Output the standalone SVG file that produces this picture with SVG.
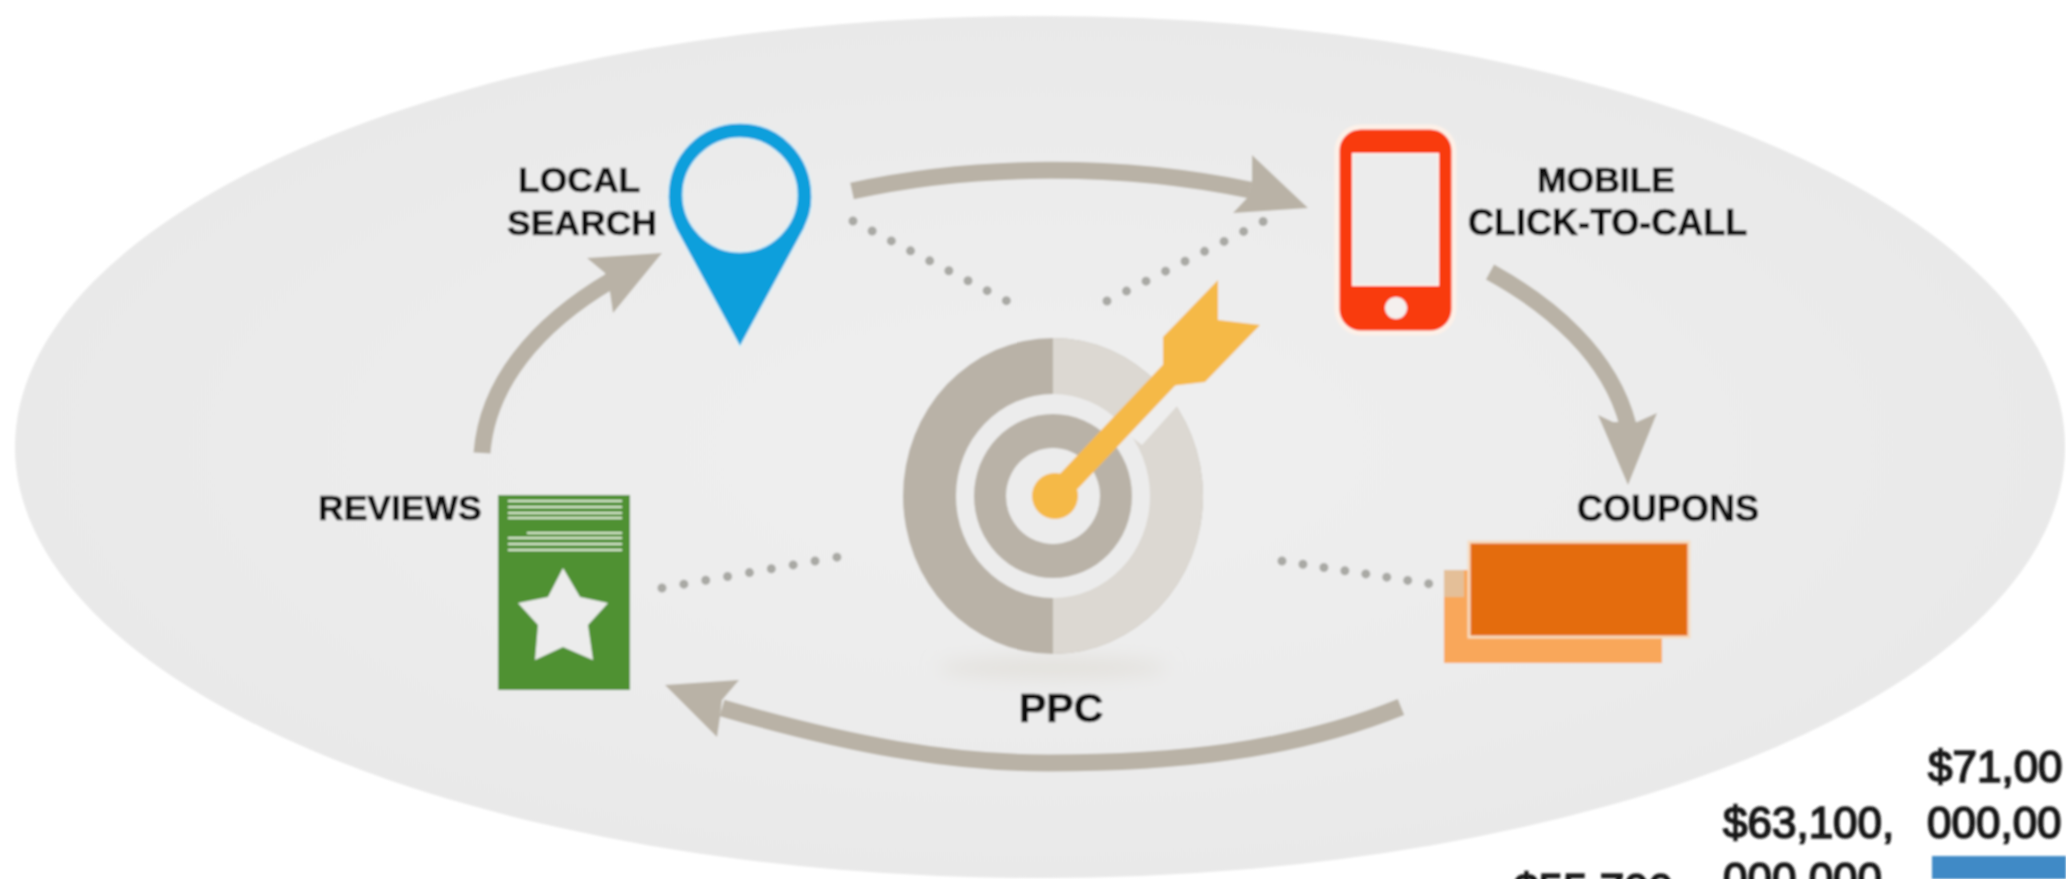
<svg xmlns="http://www.w3.org/2000/svg" width="2066" height="879" viewBox="0 0 2066 879">
<style>
.lbl{font-family:"Liberation Sans",Arial,sans-serif;font-weight:700;font-size:35.5px;fill:#111;stroke:#111;stroke-width:.7}
.val{font-family:"Liberation Sans",Arial,sans-serif;font-weight:400;font-size:44px;fill:#1a1a1a;stroke:#1a1a1a;stroke-width:1.7}
.stem{fill:none;stroke:#b9b2a6;stroke-width:17}
.head{fill:#b9b2a6}
.dots{fill:none;stroke:#a9a9a4;stroke-width:9;stroke-linecap:round}
.dark{fill:#b9b2a7}
.light{fill:#dcd8d2}
.bg{fill:#ececec}
.gold{fill:#f5b947}
.rl{stroke:#dcebd0;stroke-width:2;fill:none}
</style>
<defs>
<filter id="soft" x="0" y="0" width="2066" height="879" filterUnits="userSpaceOnUse"><feGaussianBlur stdDeviation="1"/></filter>
<filter id="shadow" x="-20%" y="-100%" width="140%" height="300%"><feGaussianBlur stdDeviation="9"/></filter>
<radialGradient id="wash" cx="50%" cy="50%" r="50%"><stop offset="0" stop-color="#efefef"/><stop offset="0.6" stop-color="#ececec"/><stop offset="1" stop-color="#e9e9e9"/></radialGradient>
<clipPath id="right"><rect x="1053" y="320" width="170" height="350"/></clipPath>
</defs>
<rect width="2066" height="879" fill="#ffffff"/>
<g filter="url(#soft)">
<ellipse id="backdrop" cx="1040" cy="447" rx="1025" ry="431" fill="url(#wash)"/>

<g id="connectors">
<path class="stem" d="M852,191 C975,164 1120,163 1250,190"/>
<polygon class="head" points="1252,155 1308,208 1233,213 1248,197 1252,180"/>
<path class="stem" d="M1490,272 C1550,305 1610,355 1628,425"/>
<polygon class="head" points="1598,415 1613,422 1637,422 1657,413 1628,485"/>
<path class="stem" d="M1401,707 C1290,752 1170,763 1048,763 C950,763 850,745 722,708"/>
<polygon class="head" points="665,685 739,680 722,700 720,717 717,737"/>
<path class="stem" d="M482,453 C487,385 535,325 612,280"/>
<polygon class="head" points="587,258 662,253 613,313 610,292 605,273"/>
<path class="dots" stroke-dasharray="0 21.6" d="M853,221 L1009,302"/>
<path class="dots" stroke-dasharray="0 21.9" d="M1107,301 L1270,218"/>
<path class="dots" stroke-dasharray="0 22.2" d="M662,588 L838,557"/>
<path class="dots" stroke-dasharray="0 21.2" d="M1282,561 L1431,584"/>
</g>

<g id="local-search">
<path d="M740,123 C700,123 668,155 668,197 C668,210 671,218 676,229 L740,347 L804,229 C809,218 812,210 812,197 C812,155 780,123 740,123 Z M740,138 C771,138 797,164 797,195 C797,226 771,252 740,252 C709,252 683,226 683,195 C683,164 709,138 740,138 Z" fill="#0f9fdc" fill-rule="evenodd" stroke="#d8f0f8" stroke-width="1.5"/>
<text class="lbl" x="518" y="192">LOCAL</text>
<text class="lbl" x="507" y="235">SEARCH</text>
</g>

<g id="mobile">
<rect x="1337" y="127" width="117" height="206" rx="24" fill="#f93a0c" stroke="#fdf1e8" stroke-width="5"/>
<rect x="1353" y="154" width="85" height="131" class="bg" stroke="#fbf3ec" stroke-width="2"/>
<circle cx="1396" cy="308" r="11" fill="#f4f0ee"/>
<text class="lbl" x="1537" y="192">MOBILE</text>
<text class="lbl" x="1468" y="235" style="font-size:36px">CLICK-TO-CALL</text>
</g>

<g id="coupons">
<rect x="1444" y="570" width="218" height="93" fill="#f9a75a"/>
<rect x="1444" y="570" width="20" height="27" fill="#e4bf98"/>
<rect x="1469" y="542" width="220" height="95" fill="#e46c0a" stroke="#f7dcc0" stroke-width="3"/>
<text class="lbl" x="1577" y="521" style="font-size:36px">COUPONS</text>
</g>

<g id="reviews">
<rect x="498" y="495" width="132" height="195" fill="#4f9133"/>
<path class="rl" d="M508,501H622M508,507H622M508,513H622M508,518H622M527,533H622M508,538H622M508,544H622M508,550H622"/>
<polygon class="bg" points="563,568 580,597 608,603 588,625 593,660 563,647 535,660 538,625 518,603 548,597"/>
<text class="lbl" x="318" y="520">REVIEWS</text>
</g>

<g id="ppc">
<ellipse cx="1053" cy="668" rx="115" ry="11" fill="#e3e1dd" filter="url(#shadow)"/>
<ellipse cx="1053" cy="496" rx="150" ry="158" class="dark"/>
<ellipse cx="1053" cy="496" rx="150" ry="158" class="light" clip-path="url(#right)"/>
<ellipse cx="1053" cy="496" rx="97" ry="102" class="bg"/>
<polygon fill="#eeeeee" points="1120,428 1142,445 1178,405 1200,360 1172,372"/>
<ellipse cx="1053" cy="496" rx="79" ry="82" class="dark"/>
<ellipse cx="1053" cy="496" rx="47" ry="48" class="bg"/>
<line x1="1055" y1="496" x2="1172" y2="372" stroke="#f5b947" stroke-width="23"/>
<circle cx="1055" cy="496" r="23" class="gold"/>
<polygon class="gold" points="1218,280 1218,320 1260,325 1205,382 1170,386 1163,367 1163,337"/>
<text class="lbl" x="1019" y="722" style="font-size:41px">PPC</text>
</g>

<g id="chart">
<rect x="1932" y="856" width="134" height="23" fill="#3f8ac6"/>
<text class="val" x="1928" y="782">$71,00</text>
<text class="val" x="1927" y="838">000,00</text>
<text class="val" x="1723" y="838">$63,100,</text>
<text class="val" x="1723" y="894">000,000</text>
<text class="val" x="1514" y="905">$55,700,</text>
</g>
</g>
</svg>
